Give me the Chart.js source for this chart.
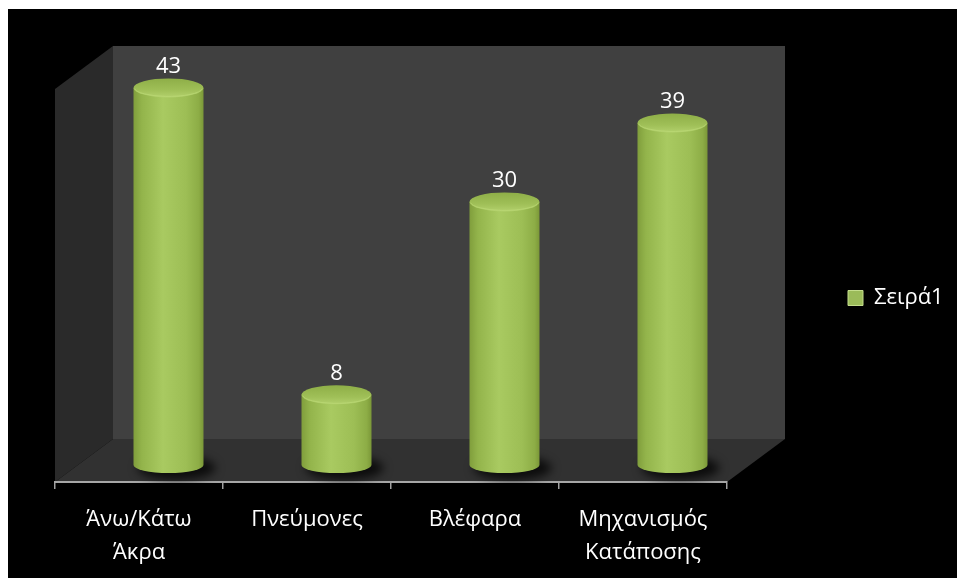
<!DOCTYPE html>
<html><head><meta charset="utf-8">
<script src="https://cdn.jsdelivr.net/npm/chart.js@4.4.1/dist/chart.umd.min.js"></script>
<style>
html,body{margin:0;padding:0;background:#fff;width:957px;height:578px;overflow:hidden}
#wrap{position:absolute;left:8px;top:9px;width:949px;height:569px;background:#000}
canvas{display:block}
</style></head><body>
<div id="wrap"><canvas id="c" width="949" height="569"></canvas></div>
<script>
// ---- data ----
const categories = [['Άνω/Κάτω', 'Άκρα'], 'Πνεύμονες', 'Βλέφαρα', ['Μηχανισμός', 'Κατάποσης']];
const seriesName = 'Σειρά1';
const values = [43, 8, 30, 39];
const yMin = 0;
const yMax = 50;

// ---- style ----
const FONT = '"Open Sans", "Noto Sans", sans-serif';
const FONT_SIZE = 22;
const BAR_PCT = 0.4167;
const BAR_DX = 29.5, BAR_DY = -17;      // bars sit at mid depth of the 3D floor
const DEPTH_X = 58, DEPTH_Y = 43;       // 3D depth of walls/floor
const TOP_RY = 9.5, BOT_RY = 8;
const LEGEND_CENTER_Y = 289;            // vertical centre of the legend item (canvas px)

function bodyGradient(ctx, cx, w) {
  const g = ctx.createLinearGradient(cx - w / 2, 0, cx + w / 2, 0);
  g.addColorStop(0, '#809e3c');
  g.addColorStop(0.12, '#93b44b');
  g.addColorStop(0.42, '#a9ca61');
  g.addColorStop(0.75, '#9dbe55');
  g.addColorStop(0.93, '#8dad46');
  g.addColorStop(1, '#7b9838');
  return g;
}

// legend right padding so that chart area ends at x=719 and legend box starts at x=840
const LEG_PAD = 121, LEG_BOX = 15;
const mctx = document.createElement('canvas').getContext('2d');
mctx.font = FONT_SIZE + 'px ' + FONT;
const legTextW = mctx.measureText(seriesName).width;
const CANVAS_W = 949, AREA_LEFT = 47, AREA_RIGHT = 719;
const legendW = LEG_PAD + LEG_BOX + FONT_SIZE / 2 + legTextW + 10;
const padRight = Math.max(0, CANVAS_W - AREA_RIGHT - legendW);

const wallsPlugin = {
  id: 'walls',
  afterLayout(chart) {
    const lg = chart.legend;
    if (lg) {
      const shift = LEGEND_CENTER_Y - (lg.top + lg.bottom) / 2;
      lg.top += shift; lg.bottom += shift;
    }
  },
  beforeDraw(chart) {
    const {ctx, chartArea: a} = chart;
    const backTop = a.top + 2.5;
    ctx.save();
    // back wall
    ctx.fillStyle = '#404040';
    ctx.fillRect(a.left + DEPTH_X, backTop, (a.right - a.left), a.bottom - DEPTH_Y - backTop);
    // side wall
    ctx.fillStyle = '#2a2a2a';
    ctx.beginPath();
    ctx.moveTo(a.left, backTop + DEPTH_Y);
    ctx.lineTo(a.left + DEPTH_X, backTop);
    ctx.lineTo(a.left + DEPTH_X, a.bottom - DEPTH_Y);
    ctx.lineTo(a.left, a.bottom);
    ctx.closePath();
    ctx.fill();
    // floor
    ctx.fillStyle = '#313131';
    ctx.beginPath();
    ctx.moveTo(a.left, a.bottom);
    ctx.lineTo(a.left + DEPTH_X, a.bottom - DEPTH_Y);
    ctx.lineTo(a.right + DEPTH_X, a.bottom - DEPTH_Y);
    ctx.lineTo(a.right, a.bottom);
    ctx.closePath();
    ctx.fill();
    ctx.restore();
  },
  beforeDatasetsDraw(chart) {
    const ctx = chart.ctx;
    ctx.save();
    ctx.translate(BAR_DX, BAR_DY);
    const meta = chart.getDatasetMeta(0);
    meta.data.forEach(el => {
      const p = el.getProps(['x', 'base', 'width'], true);
      ctx.save();
      ctx.filter = 'blur(5px)';
      ctx.fillStyle = 'rgba(0,0,0,0.75)';
      ctx.beginPath();
      ctx.ellipse(p.x + 8, p.base + 3, p.width / 2 + 4, BOT_RY + 4, 0, 0, Math.PI * 2);
      ctx.fill();
      ctx.restore();
    });
  },
  afterDatasetsDraw(chart) {
    const ctx = chart.ctx;
    const meta = chart.getDatasetMeta(0);
    meta.data.forEach((el, i) => {
      const p = el.getProps(['x', 'y', 'base', 'width'], true);
      const rx = p.width / 2;
      // bottom rounded edge
      ctx.fillStyle = bodyGradient(ctx, p.x, p.width);
      ctx.beginPath();
      ctx.ellipse(p.x, p.base, rx, BOT_RY, 0, 0, Math.PI);
      ctx.fill();
      // top cap
      const tg = ctx.createLinearGradient(0, p.y - TOP_RY, 0, p.y + TOP_RY);
      tg.addColorStop(0, '#8eae47');
      tg.addColorStop(0.6, '#9fbf57');
      tg.addColorStop(1, '#b2d06c');
      ctx.fillStyle = tg;
      ctx.beginPath();
      ctx.ellipse(p.x, p.y, rx, TOP_RY, 0, 0, Math.PI * 2);
      ctx.fill();
      ctx.strokeStyle = 'rgba(190,220,120,0.6)';
      ctx.lineWidth = 1;
      ctx.beginPath();
      ctx.ellipse(p.x, p.y, rx - 1, TOP_RY - 1, 0, 0.1, Math.PI - 0.1);
      ctx.stroke();
      // value label
      ctx.fillStyle = '#ffffff';
      ctx.font = FONT_SIZE + 'px ' + FONT;
      ctx.textAlign = 'center';
      ctx.textBaseline = 'middle';
      ctx.fillText(String(values[i]), p.x, p.y - 21);
    });
    ctx.restore();
  }
};

new Chart(document.getElementById('c'), {
  type: 'bar',
  data: {
    labels: categories,
    datasets: [{
      label: seriesName,
      data: values,
      clip: false,
      categoryPercentage: 1,
      barPercentage: BAR_PCT,
      borderWidth: 0,
      backgroundColor: (c) => {
        const chart = c.chart, xs = chart.scales && chart.scales.x;
        if (c.type !== 'data' || !xs || !chart.chartArea) return '#9bbb59';
        const cx = xs.getPixelForValue(c.dataIndex);
        const w = (xs.right - xs.left) / categories.length * BAR_PCT;
        return bodyGradient(chart.ctx, cx, w);
      }
    }]
  },
  options: {
    responsive: false,
    animation: false,
    devicePixelRatio: 1,
    layout: {padding: {left: AREA_LEFT, top: 34.5, right: padRight, bottom: 0}},
    plugins: {
      tooltip: {enabled: false},
      legend: {
        position: 'right',
        labels: {
          color: '#ffffff',
          font: {family: FONT, size: FONT_SIZE},
          boxWidth: LEG_BOX,
          boxHeight: LEG_BOX,
          padding: LEG_PAD,
          generateLabels: () => [{
            text: seriesName, fillStyle: '#9bbb59', strokeStyle: '#c4dd8c',
            lineWidth: 1, hidden: false, datasetIndex: 0, fontColor: '#ffffff'
          }]
        }
      }
    },
    scales: {
      x: {
        offset: true,
        grid: {display: true, offset: true, drawOnChartArea: false, drawTicks: true, tickLength: 7, color: '#a0a0a0', lineWidth: 1.5},
        border: {display: true, color: '#a6a6a6', width: 2},
        ticks: {color: '#ffffff', font: {family: FONT, size: FONT_SIZE, lineHeight: 1.5}, padding: 14.5, maxRotation: 0, autoSkip: false},
        afterFit: (s) => { s.height = 96; }
      },
      y: {display: false, min: yMin, max: yMax}
    }
  },
  plugins: [wallsPlugin]
});
</script>
</body></html>
